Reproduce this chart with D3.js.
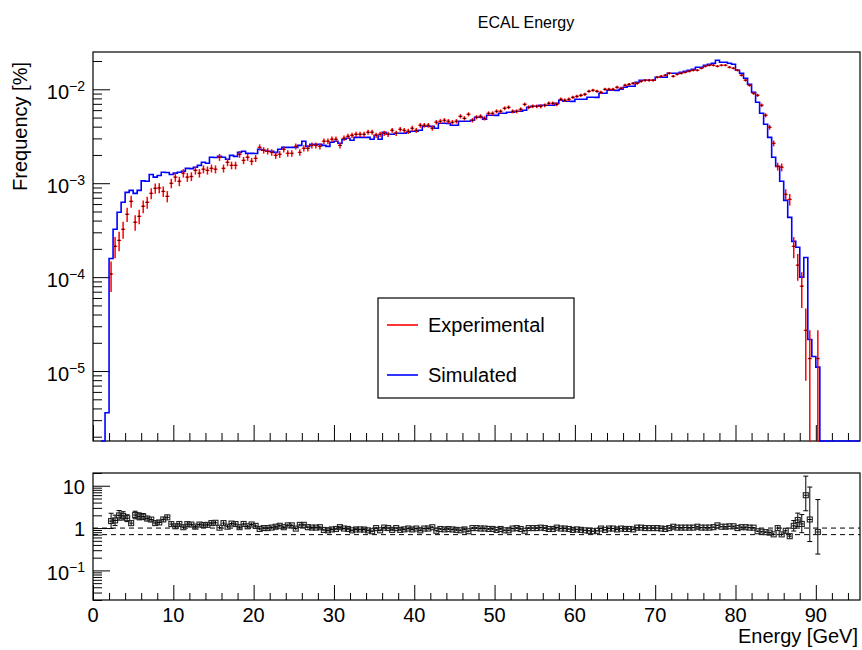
<!DOCTYPE html>
<html>
<head>
<meta charset="utf-8">
<script src="https://cdn.jsdelivr.net/npm/d3@7/dist/d3.min.js"></script>
<style>
html,body{margin:0;padding:0;background:#fff;}
svg{display:block;}
text{font-family:"Liberation Sans",Arial,Helvetica,sans-serif;fill:#000;}
</style>
</head>
<body>
<svg id="chart" width="862" height="650"></svg>
<script>
// ================= DATA =================
const binStart = 1.0;   // GeV, lower edge of the first bin
const binWidth = 0.5;   // GeV
// Simulated frequency per bin (lower edges 1.0, 1.5, ... 90.5 GeV)
const simulated = [
  0, 3.6e-6, 1.58e-4, 3.23e-4, 4.90e-4, 6.26e-4, 7.99e-4, 8.39e-4, 7.80e-4, 8.39e-4,
  1.06e-3, 1.05e-3, 1.24e-3, 1.16e-3, 1.21e-3, 1.31e-3, 1.30e-3, 1.24e-3, 1.28e-3, 1.31e-3,
  1.34e-3, 1.44e-3, 1.43e-3, 1.48e-3, 1.55e-3, 1.67e-3, 1.63e-3, 1.89e-3, 1.88e-3, 1.93e-3,
  1.89e-3, 1.80e-3, 1.98e-3, 1.93e-3, 2.13e-3, 2.19e-3, 2.08e-3, 2.08e-3, 2.07e-3, 2.30e-3,
  2.24e-3, 2.19e-3, 2.19e-3, 2.13e-3, 2.30e-3, 2.41e-3, 2.41e-3, 2.41e-3, 2.40e-3, 2.53e-3,
  2.80e-3, 2.47e-3, 2.60e-3, 2.60e-3, 2.59e-3, 2.53e-3, 2.47e-3, 2.73e-3, 2.80e-3, 2.66e-3,
  2.94e-3, 3.01e-3, 2.87e-3, 3.08e-3, 3.08e-3, 3.07e-3, 3.08e-3, 2.94e-3, 3.24e-3, 2.94e-3,
  3.49e-3, 3.32e-3, 3.32e-3, 3.40e-3, 3.40e-3, 3.41e-3, 3.49e-3, 3.57e-3, 3.57e-3, 3.66e-3,
  4.04e-3, 4.04e-3, 4.03e-3, 3.85e-3, 4.35e-3, 4.35e-3, 4.34e-3, 4.14e-3, 4.14e-3, 4.57e-3,
  4.57e-3, 4.56e-3, 4.68e-3, 5.04e-3, 5.04e-3, 4.80e-3, 5.29e-3, 5.29e-3, 5.28e-3, 5.55e-3,
  5.55e-3, 5.69e-3, 5.69e-3, 5.83e-3, 5.83e-3, 5.98e-3, 6.43e-3, 6.59e-3, 6.59e-3, 6.76e-3,
  6.76e-3, 6.75e-3, 6.76e-3, 7.10e-3, 7.64e-3, 7.45e-3, 7.45e-3, 7.44e-3, 7.83e-3, 7.83e-3,
  7.82e-3, 8.22e-3, 8.22e-3, 8.21e-3, 9.07e-3, 9.07e-3, 9.76e-3, 9.76e-3, 9.75e-3, 1.000e-2,
  1.051e-2, 1.077e-2, 1.077e-2, 1.188e-2, 1.248e-2, 1.248e-2, 1.247e-2, 1.248e-2, 1.343e-2, 1.343e-2,
  1.342e-2, 1.481e-2, 1.481e-2, 1.480e-2, 1.518e-2, 1.556e-2, 1.594e-2, 1.634e-2, 1.716e-2, 1.716e-2,
  1.802e-2, 1.846e-2, 1.892e-2, 2.037e-2, 1.939e-2, 1.939e-2, 1.892e-2, 1.846e-2, 1.594e-2, 1.481e-2,
  1.310e-2, 1.131e-2, 9.29e-3, 7.27e-3, 5.55e-3, 4.24e-3, 3.08e-3, 1.89e-3, 1.51e-3, 1.05e-3,
  6.57e-4, 4.33e-4, 2.40e-4, 2.08e-4, 1.00e-4, 1.62e-4, 2.17e-5, 1.43e-5, 1.10e-5, 0
];
// Experimental frequency per bin (same bins)
const experimental = [
  0, 0, 1.08e-4, 2.13e-4, 2.46e-4, 3.23e-4, 4.67e-4, 6.41e-4, 3.84e-4, 4.44e-4,
  5.68e-4, 6.26e-4, 7.80e-4, 8.83e-4, 8.90e-4, 8.19e-4, 7.25e-4, 9.98e-4, 1.16e-3, 1.05e-3,
  1.28e-3, 1.16e-3, 1.18e-3, 1.37e-3, 1.28e-3, 1.41e-3, 1.37e-3, 1.44e-3, 1.41e-3, 1.89e-3,
  1.44e-3, 1.67e-3, 1.55e-3, 1.55e-3, 2.03e-3, 1.75e-3, 1.89e-3, 1.71e-3, 1.84e-3, 2.41e-3,
  2.24e-3, 2.19e-3, 2.13e-3, 1.98e-3, 2.03e-3, 2.30e-3, 2.08e-3, 2.08e-3, 2.47e-3, 2.13e-3,
  2.35e-3, 2.35e-3, 2.53e-3, 2.53e-3, 2.47e-3, 2.80e-3, 2.80e-3, 2.94e-3, 2.94e-3, 2.53e-3,
  3.01e-3, 3.16e-3, 3.24e-3, 3.32e-3, 3.32e-3, 3.32e-3, 3.49e-3, 3.49e-3, 3.24e-3, 3.32e-3,
  3.40e-3, 3.32e-3, 3.66e-3, 3.40e-3, 3.75e-3, 3.66e-3, 3.57e-3, 3.85e-3, 3.66e-3, 4.14e-3,
  4.14e-3, 4.14e-3, 3.85e-3, 4.46e-3, 4.57e-3, 4.68e-3, 4.57e-3, 4.46e-3, 4.57e-3, 5.16e-3,
  4.91e-3, 5.42e-3, 4.68e-3, 5.04e-3, 5.16e-3, 4.91e-3, 5.55e-3, 5.55e-3, 5.83e-3, 5.83e-3,
  6.28e-3, 6.43e-3, 5.83e-3, 5.83e-3, 6.13e-3, 6.92e-3, 6.43e-3, 6.59e-3, 6.59e-3, 6.59e-3,
  6.76e-3, 7.10e-3, 7.10e-3, 6.92e-3, 7.83e-3, 7.64e-3, 7.83e-3, 8.22e-3, 8.42e-3, 8.63e-3,
  8.85e-3, 9.52e-3, 9.76e-3, 9.52e-3, 9.29e-3, 1.000e-2, 1.000e-2, 1.000e-2, 1.051e-2, 1.026e-2,
  1.104e-2, 1.131e-2, 1.159e-2, 1.159e-2, 1.217e-2, 1.248e-2, 1.248e-2, 1.248e-2, 1.343e-2, 1.376e-2,
  1.410e-2, 1.481e-2, 1.376e-2, 1.445e-2, 1.481e-2, 1.518e-2, 1.556e-2, 1.594e-2, 1.594e-2, 1.674e-2,
  1.758e-2, 1.802e-2, 1.802e-2, 1.758e-2, 1.802e-2, 1.802e-2, 1.716e-2, 1.674e-2, 1.594e-2, 1.410e-2,
  1.248e-2, 1.104e-2, 9.07e-3, 8.63e-3, 6.76e-3, 5.29e-3, 3.94e-3, 2.66e-3, 1.51e-3, 1.48e-3,
  7.61e-4, 6.73e-4, 2.13e-4, 1.34e-4, 8.0e-5, 2.71e-5, 1.36e-5, 0, 1.36e-5, 0
];
const experimentalEvents = 73500;   // events behind the experimental histogram

const xTickValues = [0, 10, 20, 30, 40, 50, 60, 70, 80, 90];
const xTickLabels = ["0", "10", "20", "30", "40", "50", "60", "70", "80", "90"];
const freqTickValues = [1e-5, 1e-4, 1e-3, 1e-2];
const freqTickBases = ["10", "10", "10", "10"];
const freqTickExponents = ["\u22125", "\u22124", "\u22123", "\u22122"];
const ratioTickValues = [0.1, 1, 10];
const ratioTickBases = ["10", "1", "10"];
const ratioTickExponents = ["\u22121", "", ""];
const ratioRefLines = [1, 0.7];
const legendLabels = ["Experimental", "Simulated"];
const legendColors = ["#ff0000", "#0000ff"];

// ================= LAYOUT =================
const svg = d3.select("#chart");
const P1 = {l: 93, r: 860, t: 52, b: 441};
const P2 = {l: 93, r: 860, t: 473, b: 600};

const x = d3.scaleLinear().domain([0, 95.5]).range([P1.l, P1.r]);
const yF = d3.scaleLog().domain([1.8e-6, 0.02495]).range([P1.b, P1.t]);
const yR = d3.scaleLog().domain([0.02, 20]).range([P2.b, P2.t]);

const bins = simulated.map((s, i) => ({
  lo: binStart + i * binWidth,
  hi: binStart + (i + 1) * binWidth,
  sim: s,
  exp: experimental[i]
}));

function logMinors(scale) {
  const [a, b] = scale.domain();
  const out = [];
  for (let e = Math.floor(Math.log10(a)); e <= Math.ceil(Math.log10(b)); e++) {
    for (let k = 2; k <= 9; k++) {
      const v = k * Math.pow(10, e);
      if (v >= a && v <= b) out.push(v);
    }
  }
  return out;
}
function linMinors(scale, step) {
  const [a, b] = scale.domain();
  const out = [];
  for (let v = a; v <= b + 1e-9; v += step) out.push(v);
  return out;
}
function tickGroup(parent, axis, tx, ty) {
  const g = parent.append("g").attr("transform", `translate(${tx},${ty})`).call(axis);
  g.select(".domain").remove();
  g.selectAll("line").attr("stroke", "#000").attr("stroke-width", 1);
  g.selectAll("text").remove();
  return g;
}

// clip paths
const defs = svg.append("defs");
defs.append("clipPath").attr("id", "clip1").append("rect")
  .attr("x", P1.l).attr("y", P1.t).attr("width", P1.r - P1.l).attr("height", P1.b - P1.t + 1);
defs.append("clipPath").attr("id", "clip2").append("rect")
  .attr("x", P2.l).attr("y", P2.t).attr("width", P2.r - P2.l).attr("height", P2.b - P2.t);

// ================= TITLE =================
svg.append("text").attr("x", 526).attr("y", 28).attr("text-anchor", "middle")
  .attr("font-size", 16).text("ECAL Energy");

// ================= TOP PANEL =================
const g1 = svg.append("g");
g1.append("rect").attr("x", P1.l).attr("y", P1.t).attr("width", P1.r - P1.l).attr("height", P1.b - P1.t)
  .attr("fill", "#fff").attr("stroke", "#000").attr("stroke-width", 1.2);

tickGroup(g1, d3.axisLeft(yF).tickValues(freqTickValues).tickSize(-17).tickSizeOuter(0).tickFormat(""), P1.l, 0);
tickGroup(g1, d3.axisLeft(yF).tickValues(logMinors(yF)).tickSize(-9).tickSizeOuter(0).tickFormat(""), P1.l, 0);
tickGroup(g1, d3.axisBottom(x).tickValues(xTickValues).tickSize(-16).tickSizeOuter(0).tickFormat(""), 0, P1.b);
tickGroup(g1, d3.axisBottom(x).tickValues(linMinors(x, 2).filter(v => v % 10 !== 0)).tickSize(-8).tickSizeOuter(0).tickFormat(""), 0, P1.b);

// y tick labels (10^n)
freqTickValues.forEach((v, i) => {
  const t = g1.append("text").attr("x", 85).attr("y", yF(v) + 10).attr("text-anchor", "end").attr("font-size", 20);
  t.append("tspan").text(freqTickBases[i]);
  t.append("tspan").attr("dy", -8).attr("font-size", 14).text(freqTickExponents[i]);
});

// y title
svg.append("text").attr("transform", "translate(27,62) rotate(-90)").attr("text-anchor", "end")
  .attr("font-size", 20).text("Frequency [%]");

const data1 = g1.append("g").attr("clip-path", "url(#clip1)");
const ySafe = v => (v > 0 ? Math.min(yF(v), P1.b) : P1.b);

// simulated step histogram
let pathStr = `M${x(bins[0].lo)},${P1.b}`;
bins.forEach(b => {
  const yy = ySafe(b.sim);
  pathStr += `L${x(b.lo)},${yy}L${x(b.hi)},${yy}`;
});
pathStr += `L${x(bins[bins.length - 1].hi)},${P1.b}L${x.range()[1]},${P1.b}`;
data1.append("path").attr("d", pathStr).attr("fill", "none")
  .attr("stroke", legendColors[1]).attr("stroke-width", 1.6).attr("stroke-linejoin", "miter");

// experimental points with error bars
const expPts = bins.filter(b => b.exp > 0);
const eg = data1.append("g");
expPts.forEach(b => {
  const cx = x((b.lo + b.hi) / 2);
  const err = Math.sqrt(b.exp / experimentalEvents);
  const yHi = yF(b.exp + err);
  const yLo = (b.exp - err) > 0 ? yF(b.exp - err) : P1.b + 2;
  const yc = yF(b.exp);
  eg.append("line").attr("x1", cx).attr("x2", cx).attr("y1", yHi).attr("y2", yLo)
    .attr("stroke", legendColors[0]).attr("stroke-width", 1.5);
  eg.append("line").attr("x1", x(b.lo)).attr("x2", x(b.hi)).attr("y1", yc).attr("y2", yc)
    .attr("stroke", legendColors[0]).attr("stroke-width", 1.3);
  eg.append("rect").attr("x", cx - 0.8).attr("y", yc - 0.6).attr("width", 1.6).attr("height", 1.2)
    .attr("fill", "#000");
});

// legend
const lg = svg.append("g");
lg.append("rect").attr("x", 378).attr("y", 298).attr("width", 196).attr("height", 100)
  .attr("fill", "#fff").attr("stroke", "#000").attr("stroke-width", 1.2);
legendLabels.forEach((lab, i) => {
  const ly = 325 + i * 50;
  lg.append("line").attr("x1", 387).attr("x2", 418).attr("y1", ly).attr("y2", ly)
    .attr("stroke", legendColors[i]).attr("stroke-width", 1.6);
  lg.append("text").attr("x", 428).attr("y", ly + 7).attr("font-size", 20).text(lab);
});

// ================= RATIO PANEL =================
const g2 = svg.append("g");
g2.append("rect").attr("x", P2.l).attr("y", P2.t).attr("width", P2.r - P2.l).attr("height", P2.b - P2.t)
  .attr("fill", "#fff").attr("stroke", "#000").attr("stroke-width", 1.2);

tickGroup(g2, d3.axisLeft(yR).tickValues(ratioTickValues).tickSize(-17).tickSizeOuter(0).tickFormat(""), P2.l, 0);
tickGroup(g2, d3.axisLeft(yR).tickValues(logMinors(yR)).tickSize(-9).tickSizeOuter(0).tickFormat(""), P2.l, 0);
tickGroup(g2, d3.axisBottom(x).tickValues(xTickValues).tickSize(-15).tickSizeOuter(0).tickFormat(""), 0, P2.b);
tickGroup(g2, d3.axisBottom(x).tickValues(linMinors(x, 2).filter(v => v % 10 !== 0)).tickSize(-7).tickSizeOuter(0).tickFormat(""), 0, P2.b);

ratioTickValues.forEach((v, i) => {
  const sup = ratioTickExponents[i];
  const t = g2.append("text").attr("x", 85).attr("y", yR(v) + (sup ? 10 : 8)).attr("text-anchor", "end").attr("font-size", 20);
  t.append("tspan").text(ratioTickBases[i]);
  if (sup) t.append("tspan").attr("dy", -8).attr("font-size", 14).text(sup);
});

xTickValues.forEach((v, i) => {
  g2.append("text").attr("x", x(v)).attr("y", 622).attr("text-anchor", "middle").attr("font-size", 20).text(xTickLabels[i]);
});
svg.append("text").attr("x", 858).attr("y", 643).attr("text-anchor", "end").attr("font-size", 20).text("Energy [GeV]");

const data2 = g2.append("g").attr("clip-path", "url(#clip2)");
ratioRefLines.forEach(v => {
  data2.append("line").attr("x1", P2.l).attr("x2", P2.r).attr("y1", yR(v)).attr("y2", yR(v))
    .attr("stroke", "#000").attr("stroke-width", 1).attr("stroke-dasharray", "5,4");
});

const ratioPts = bins.filter(b => b.exp > 0 && b.sim > 0).map(b => {
  const r = b.sim / b.exp;
  const n = b.exp * experimentalEvents;
  const up = n + Math.sqrt(n + 0.75) + 1;
  const lw = n * Math.pow(1 - 1 / (9 * n) - 1 / (3 * Math.sqrt(n)), 3);
  return {b, r, rlo: r * n / up, rhi: lw > 0 ? r * n / lw : 1e3};
});
const rg = data2.append("g");
ratioPts.forEach(p => {
  const cx = x((p.b.lo + p.b.hi) / 2);
  const yc = yR(p.r), y1 = yR(p.rhi), y0 = yR(p.rlo);
  const col = "#000";
  rg.append("line").attr("x1", cx).attr("x2", cx).attr("y1", y1).attr("y2", y0).attr("stroke", col).attr("stroke-width", 1);
  if (y0 - y1 > 6) {
    [y0, y1].forEach(yy => rg.append("line").attr("x1", cx - 2.5).attr("x2", cx + 2.5).attr("y1", yy).attr("y2", yy)
      .attr("stroke", col).attr("stroke-width", 1));
  }
  rg.append("line").attr("x1", x(p.b.lo)).attr("x2", x(p.b.hi)).attr("y1", yc).attr("y2", yc).attr("stroke", col).attr("stroke-width", 1);
  rg.append("rect").attr("x", cx - 2.5).attr("y", yc - 2.5).attr("width", 5).attr("height", 5)
    .attr("fill", "none").attr("stroke", "#222").attr("stroke-width", 1.1);
});
</script>
</body>
</html>
